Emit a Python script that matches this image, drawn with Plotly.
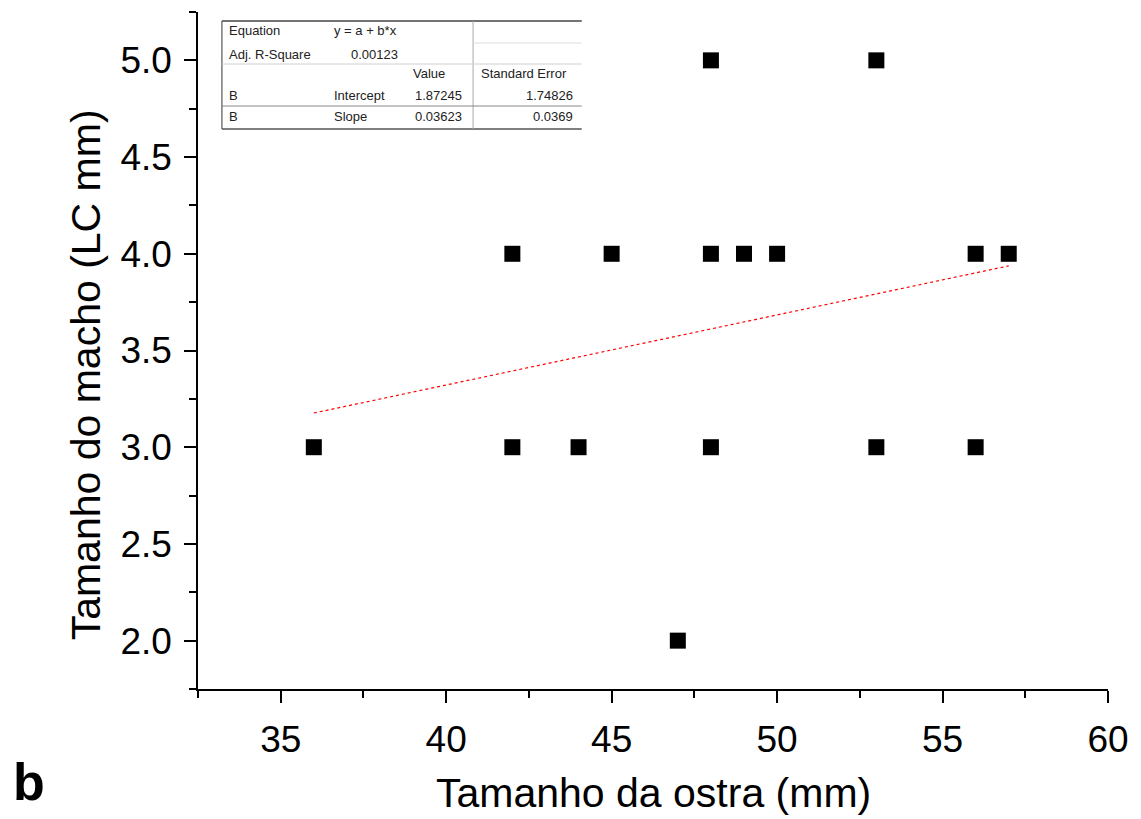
import plotly.graph_objects as go

# ---------------- data ----------------
oyster_size = [36, 42, 42, 44, 45, 47, 48, 48, 48, 49, 50, 53, 53, 56, 56, 57]
male_size = [3, 4, 3, 3, 4, 2, 5, 4, 3, 4, 4, 5, 3, 4, 3, 4]

intercept = 1.87245
slope = 0.03623
intercept_se = 1.74826
slope_se = 0.0369
adj_r2 = 0.00123

x_ticks = [35, 40, 45, 50, 55, 60]
y_ticks = [2.0, 2.5, 3.0, 3.5, 4.0, 4.5, 5.0]

fit_x = [min(oyster_size), max(oyster_size)]
fit_y = [intercept + slope * v for v in fit_x]

# ---------------- layout geometry ----------------
W, H = 1141, 819
L, R, T, B = 198, 1111, 12, 689


def px(x):
    return (x - L) / (R - L)


def py(y):
    return (B - y) / (B - T)


fig = go.Figure()
fig.add_trace(go.Scatter(
    x=fit_x, y=fit_y, mode="lines",
    line=dict(color="red", width=1.2, dash="dot"),
    showlegend=False, hoverinfo="skip"))
fig.add_trace(go.Scatter(
    x=oyster_size, y=male_size, mode="markers",
    marker=dict(symbol="square", size=16, color="black"),
    showlegend=False))

axis_font = dict(family="Liberation Sans, Arial, sans-serif", size=37, color="black")

fig.update_xaxes(
    range=[32.5, 60], tickvals=x_ticks, ticktext=[str(v) for v in x_ticks],
    showline=True, linecolor="black", linewidth=1.5, mirror=False,
    ticks="outside", ticklen=12, tickwidth=2, tickcolor="black",
    minor=dict(dtick=2.5, tick0=32.5, ticks="outside", ticklen=7, tickwidth=1.5, tickcolor="black"),
    showgrid=False, zeroline=False, tickfont=axis_font, ticklabelstandoff=5)
fig.update_yaxes(
    range=[1.75, 5.25], tickvals=y_ticks, ticktext=["%.1f" % v for v in y_ticks],
    showline=True, linecolor="black", linewidth=1.5, mirror=False,
    ticks="outside", ticklen=12, tickwidth=2, tickcolor="black",
    minor=dict(dtick=0.25, tick0=1.75, ticks="outside", ticklen=7, tickwidth=1.5, tickcolor="black"),
    showgrid=False, zeroline=False, tickfont=axis_font, ticklabelstandoff=5)

title_font = dict(family="Liberation Sans, Arial, sans-serif", size=41, color="black")
annotations = [
    dict(text="Tamanho da ostra (mm)", x=px(655), y=py(818), xref="paper", yref="paper",
         showarrow=False, font=title_font, xanchor="center", yanchor="bottom"),
    dict(text="Tamanho do macho (LC mm)", x=px(86), y=py(375), xref="paper", yref="paper",
         showarrow=False, font=title_font, textangle=-90, xanchor="center", yanchor="middle"),
    dict(text="<b>b</b>", x=px(28), y=py(782), xref="paper", yref="paper",
         showarrow=False, font=dict(family="Liberation Sans, Arial, sans-serif", size=52, color="black"),
         xanchor="center", yanchor="middle"),
]

# ---------------- fit table ----------------
tf = dict(family="Liberation Sans, Arial, sans-serif", size=13, color="#222222")
table_cells = [
    ("Equation", 227, 31, "left"),
    ("y = a + b*x", 332, 31, "left"),
    ("Adj. R-Square", 227, 54, "left"),
    ("%.5f" % adj_r2, 401, 54, "right"),
    ("Value", 412, 74, "left"),
    ("Standard Error", 480, 74, "left"),
    ("B", 227, 95, "left"),
    ("Intercept", 332, 95, "left"),
    ("%.5f" % intercept, 465, 95, "right"),
    ("%.5f" % intercept_se, 576, 95, "right"),
    ("B", 227, 117, "left"),
    ("Slope", 332, 117, "left"),
    ("%.5f" % slope, 465, 117, "right"),
    ("%.4f" % slope_se, 576, 117, "right"),
]
for txt, x, y, anc in table_cells:
    annotations.append(dict(text=txt, x=px(x), y=py(y), xref="paper", yref="paper",
                            showarrow=False, font=tf, xanchor=anc, yanchor="middle"))

shapes = []


def hline(x0, x1, y, color, w):
    shapes.append(dict(type="line", xref="paper", yref="paper", x0=px(x0), x1=px(x1),
                       y0=py(y), y1=py(y), line=dict(color=color, width=w)))


def vline(x, y0, y1, color, w):
    shapes.append(dict(type="line", xref="paper", yref="paper", x0=px(x), x1=px(x),
                       y0=py(y0), y1=py(y1), line=dict(color=color, width=w)))


shapes.append(dict(type="rect", xref="paper", yref="paper", x0=px(222), x1=px(583),
                   y0=py(129), y1=py(21), fillcolor="white", line=dict(width=0), layer="below"))
hline(222, 583, 21, "#444444", 1.5)
hline(222, 583, 129, "#555555", 1.5)
vline(222, 21, 129, "#555555", 1.2)
vline(474, 21, 129, "#aaaaaa", 1)
hline(474, 583, 43, "#dddddd", 1)
hline(222, 583, 64, "#d0d0d0", 1)
hline(222, 583, 106, "#888888", 1)

fig.update_layout(
    width=W, height=H, autosize=False,
    margin=dict(l=L, r=W - R, t=T, b=H - B),
    paper_bgcolor="white", plot_bgcolor="white",
    annotations=annotations, shapes=shapes, showlegend=False)

fig.write_html(
    "out.html",
    config={"displayModeBar": False},
    post_script="document.body.style.margin='0';document.body.style.overflow='hidden';",
)
